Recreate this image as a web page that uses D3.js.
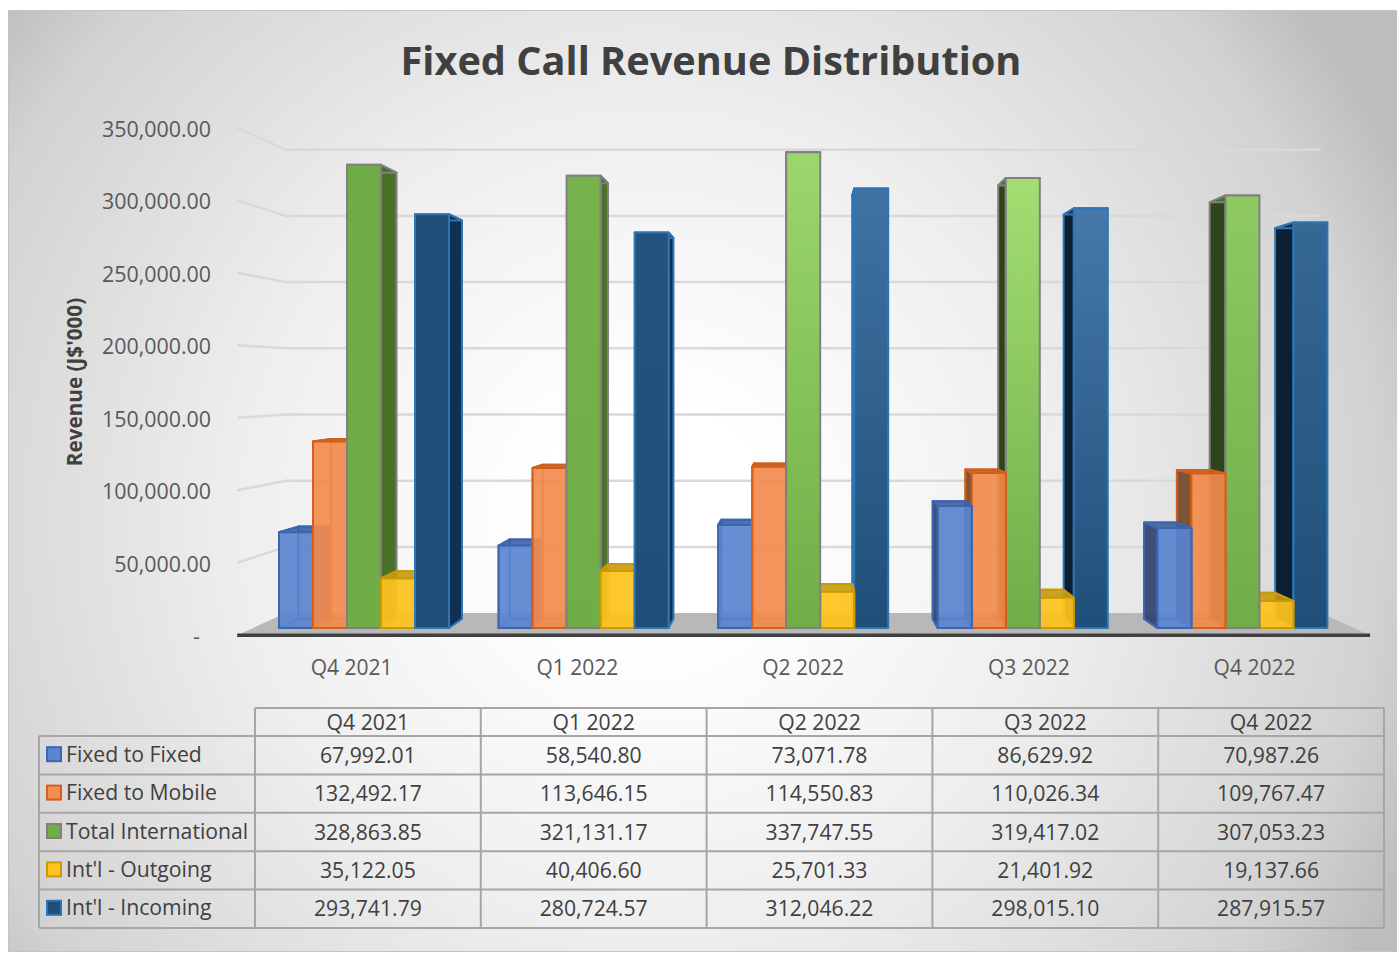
<!DOCTYPE html>
<html>
<head>
<meta charset="utf-8">
<script src="https://d3js.org/d3.v7.min.js"></script>
<style>
  body { margin: 0; background: #fff; overflow: hidden; }
  text { font-family: "Open Sans", sans-serif; }
</style>
</head>
<body>
<svg id="chart" width="1397" height="953"></svg>
<script>
const categories = ["Q4 2021", "Q1 2022", "Q2 2022", "Q3 2022", "Q4 2022"];
const seriesNames = ["Fixed to Fixed", "Fixed to Mobile", "Total International", "Int'l - Outgoing", "Int'l - Incoming"];

const fixedToFixed = [67992.01, 58540.80, 73071.78, 86629.92, 70987.26];
const fixedToMobile = [132492.17, 113646.15, 114550.83, 110026.34, 109767.47];
const totalInternational = [328863.85, 321131.17, 337747.55, 319417.02, 307053.23];
const intlOutgoing = [35122.05, 40406.60, 25701.33, 21401.92, 19137.66];
const intlIncoming = [293741.79, 280724.57, 312046.22, 298015.10, 287915.57];
const seriesValues = [fixedToFixed, fixedToMobile, totalInternational, intlOutgoing, intlIncoming];
const yTicks = [0, 50000, 100000, 150000, 200000, 250000, 300000, 350000];

// look of each series, same order as seriesNames
const fills = ["#5B85D0", "#F48D4E", "#70AD47", "#FFC41F", "#1F4E79"];
const strokes = ["#3B66B5", "#D2601A", "#808080", "#C99A06", "#2E75B6"];
const alphas = [0.88, 0.88, 1, 0.9, 1];
const sideFills = ["#3F5F9E", "#B85F22", "#4A7029", "#C79A10", "#12304F"];
const darkSides = ["#34456B", "#74492A", "#2C4619", "#8A6A10", "#0C1F33"];
const brightTops = [null, null, "#A2DE72", null, "#4679AA"];
const sheen = [0, 0.12, 0.85, 1, 0.6];

const svg = d3.select("#chart");
const defs = svg.append("defs");

// perspective: everything is laid out on the plane of the bar fronts, then pulled to the vanishing point
const vx = 800, vy = 380;
const wallFront = 1.029, wallBack = 0.94, barBack = 0.963, labelPlane = 1.026;
function project(x, y, s) {
  return [vx + (x - vx) * s, vy + (y - vy) * s];
}

const yScale = d3.scaleLinear().domain([0, 350000]).range([628, 135]);
const groupScale = d3.scaleBand().domain(categories).range([254, 1352]);
const barScale = d3.scaleBand().domain(seriesNames).range([25, 195]);

// background
const bg = defs.append("radialGradient").attr("id", "bg")
  .attr("gradientUnits", "userSpaceOnUse")
  .attr("cx", 650).attr("cy", 520).attr("r", 830);
bg.append("stop").attr("offset", "0.14").attr("stop-color", "#ffffff");
bg.append("stop").attr("offset", "0.5").attr("stop-color", "#eeeeee");
bg.append("stop").attr("offset", "0.88").attr("stop-color", "#d2d2d2");
bg.append("stop").attr("offset", "1").attr("stop-color", "#bdbdbd");

svg.append("rect")
  .attr("x", 8.5).attr("y", 10.5).attr("width", 1400).attr("height", 941)
  .attr("fill", "url(#bg)")
  .attr("stroke", "#c4c4c4");

svg.append("text")
  .attr("x", 711).attr("y", 74.5)
  .attr("text-anchor", "middle")
  .attr("font-size", 39.7).attr("font-weight", 700)
  .attr("fill", "#404040")
  .text("Fixed Call Revenue Distribution");

svg.append("text")
  .attr("transform", "translate(82,382) rotate(-90)")
  .attr("text-anchor", "middle")
  .attr("font-size", 20.7).attr("font-weight", 700)
  .attr("fill", "#404040")
  .text("Revenue (J$'000)");

// walls
const left = groupScale.range()[0] - 1, right = groupScale.range()[1] + 2;
const line = d3.line();

svg.append("path")
  .attr("d", line([
    project(left, yScale(0), wallBack), project(right, yScale(0), wallBack),
    project(right, yScale(0), wallFront), project(left, yScale(0), wallFront)
  ]) + "Z")
  .attr("fill", "#b8b8b8");

svg.selectAll("path.grid")
  .data(yTicks.filter(d => d > 0))
  .enter().append("path")
  .attr("class", "grid")
  .attr("fill", "none")
  .attr("stroke", "#d9d9d9")
  .attr("stroke-width", 2.5)
  .attr("d", d => line([
    project(left, yScale(d), wallFront),
    project(left, yScale(d), wallBack),
    project(right, yScale(d), wallBack)
  ]));

// bars, the ones furthest from the vanishing point go first
const bars = [];
seriesNames.forEach((name, s) => {
  categories.forEach((cat, c) => {
    const x0 = groupScale(cat) + barScale(name);
    bars.push({ s, c, x0, x1: x0 + barScale.bandwidth(), value: seriesValues[s][c] });
  });
});
bars.sort((a, b) => Math.abs(b.x0 + b.x1 - 2 * vx) - Math.abs(a.x0 + a.x1 - 2 * vx));

function frontFill(d) {
  if (!brightTops[d.s]) return fills[d.s];
  const id = "sheen-" + d.s + "-" + d.c;
  const g = defs.append("linearGradient").attr("id", id)
    .attr("x1", 0).attr("y1", 0).attr("x2", 0).attr("y2", 1);
  g.append("stop").attr("offset", "0")
    .attr("stop-color", d3.interpolateRgb(fills[d.s], brightTops[d.s])(sheen[d.c]));
  g.append("stop").attr("offset", "1").attr("stop-color", fills[d.s]);
  return "url(#" + id + ")";
}

bars.forEach(d => {
  const g = svg.append("g")
    .attr("stroke", strokes[d.s])
    .attr("stroke-width", 2)
    .attr("stroke-linejoin", "round");
  const yT = yScale(d.value), yB = yScale(0);
  const fTL = project(d.x0, yT, 1), fTR = project(d.x1, yT, 1);
  const fBL = project(d.x0, yB, 1), fBR = project(d.x1, yB, 1);
  const bTL = project(d.x0, yT, barBack), bTR = project(d.x1, yT, barBack);
  const bBL = project(d.x0, yB, barBack), bBR = project(d.x1, yB, barBack);
  const rightSide = d.x0 + d.x1 > 2 * vx;
  const inner = rightSide ? [fTL, bTL, bBL, fBL] : [fTR, bTR, bBR, fBR];
  const outer = rightSide ? [fTR, bTR, bBR, fBR] : [fTL, bTL, bBL, fBL];
  const sideFill = rightSide ? darkSides[d.s] : sideFills[d.s];
  const face = (pts, fill, op) => g.append("path")
    .attr("d", line(pts) + "Z")
    .attr("fill", fill)
    .attr("fill-opacity", op);

  if (alphas[d.s] < 1) {
    // see-through bars show their far faces too
    face([bTL, bTR, bBR, bBL], sideFills[d.s], 0.35);
    face([bBL, bBR, fBR, fBL], sideFills[d.s], 0.35);
    face(outer, sideFills[d.s], 0.3);
  }
  face(inner, sideFill, alphas[d.s] < 1 ? 0.9 : 1);
  face([fTL, fTR, bTR, bTL], sideFills[d.s], alphas[d.s] < 1 ? 0.85 : 1);
  face([fTL, fTR, fBR, fBL], frontFill(d), alphas[d.s]);
});

// front edge of the floor
svg.append("path")
  .attr("d", line([project(left, yScale(0), wallFront), project(right, yScale(0), wallFront)]))
  .attr("stroke", "#404040")
  .attr("stroke-width", 3.5);

// axes, drawn on the front of the walls
const yAxisScale = d3.scaleLinear().domain([0, 350000])
  .range([project(left, yScale(0), wallFront)[1], project(left, yScale(350000), wallFront)[1]]);
const yAxis = d3.axisLeft(yAxisScale)
  .tickValues(yTicks)
  .tickSize(0)
  .tickPadding(0)
  .tickFormat(d => d === 0 ? "-" : d3.format(",.2f")(d));
const yG = svg.append("g")
  .attr("transform", "translate(211,1.5)")
  .call(yAxis);
yG.select(".domain").remove();
yG.selectAll("text")
  .attr("font-size", 21.4).attr("fill", "#595959")
  .style("font-family", "'Open Sans', sans-serif")
  .filter(d => d === 0).attr("x", -11);

const xAxisScale = d3.scaleBand().domain(categories)
  .range([project(groupScale.range()[0], 0, labelPlane)[0] - 1, project(groupScale.range()[1], 0, labelPlane)[0] + 1]);
const xAxis = d3.axisBottom(xAxisScale).tickSize(0).tickPadding(0);
const xG = svg.append("g")
  .attr("transform", "translate(0,660)")
  .call(xAxis);
xG.select(".domain").remove();
xG.selectAll("text")
  .attr("font-size", 21).attr("fill", "#595959")
  .style("font-family", "'Open Sans', sans-serif");

// data table
const colScale = d3.scaleBand().domain(categories).range([255, 1384]);
const rowScale = d3.scaleBand().domain(seriesNames).range([736, 928]);
const headerTop = 708, tableLeft = 39, tableFont = 21.2;
const table = svg.append("g");
const gridColor = "#a6a6a6";

function tableLine(x1, y1, x2, y2) {
  table.append("line")
    .attr("x1", x1).attr("y1", y1).attr("x2", x2).attr("y2", y2)
    .attr("stroke", gridColor).attr("stroke-width", 2);
}
tableLine(colScale.range()[0], headerTop, colScale.range()[1], headerTop);
tableLine(tableLeft, rowScale.range()[0], colScale.range()[1], rowScale.range()[0]);
seriesNames.forEach(name => {
  const y = rowScale(name) + rowScale.bandwidth();
  tableLine(tableLeft, y, colScale.range()[1], y);
});
tableLine(tableLeft, rowScale.range()[0], tableLeft, rowScale.range()[1]);
tableLine(colScale.range()[0], headerTop, colScale.range()[0], rowScale.range()[1]);
categories.forEach(cat => {
  const x = colScale(cat) + colScale.bandwidth();
  tableLine(x, headerTop, x, rowScale.range()[1]);
  table.append("text")
    .attr("x", colScale(cat) + colScale.bandwidth() / 2)
    .attr("y", (headerTop + rowScale.range()[0]) / 2)
    .attr("dy", "0.36em")
    .attr("text-anchor", "middle")
    .attr("font-size", tableFont).attr("fill", "#404040")
    .text(cat);
});

seriesNames.forEach((name, s) => {
  const cy = rowScale(name) + rowScale.bandwidth() / 2 - 1;
  table.append("rect")
    .attr("x", 47).attr("y", cy - 7).attr("width", 14).attr("height", 14)
    .attr("fill", fills[s]).attr("stroke", strokes[s]).attr("stroke-width", 2);
  table.append("text")
    .attr("x", 66).attr("y", cy).attr("dy", "0.36em")
    .attr("font-size", tableFont).attr("fill", "#404040")
    .text(name);
  categories.forEach((cat, c) => {
    table.append("text")
      .attr("x", colScale(cat) + colScale.bandwidth() / 2)
      .attr("y", cy + 1).attr("dy", "0.36em")
      .attr("text-anchor", "middle")
      .attr("font-size", tableFont).attr("fill", "#404040")
      .text(d3.format(",.2f")(seriesValues[s][c]));
  });
});
</script>
</body>
</html>
